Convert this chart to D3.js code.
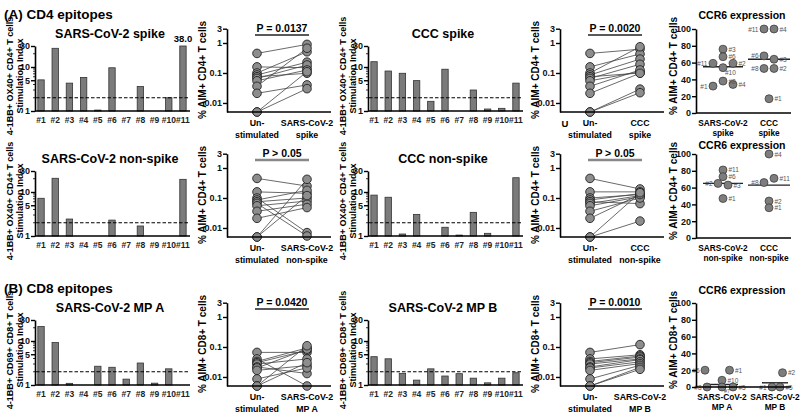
<!DOCTYPE html>
<html><head><meta charset="utf-8">
<script src="https://cdn.jsdelivr.net/npm/d3@7"></script>
<style>
body{margin:0;background:#fff}
svg{font-family:"Liberation Sans",Arial,sans-serif;font-weight:bold}
</style></head><body>
<script>
// Donors
const donors = ['#1','#2','#3','#4','#5','#6','#7','#8','#9','#10','#11'];

// Stimulation index per donor (null = no bar)
const siSarsSpike    = [5.1, 26.6, 4.3, 5.8, 1.05, 9.6, null, 3.6, null, 2.0, 38.0];
const siCccSpike     = [13.2, 8.1, 7.2, 4.9, 1.66, 8.9, null, 3.0, 1.11, 1.15, 4.3];
const siSarsNonSpike = [7.2, 20.5, 2.43, null, null, 2.3, null, 1.69, null, null, 19.4];
const siCccNonSpike  = [8.5, 7.6, 1.11, 3.1, null, 1.58, 1.05, 3.45, 1.15, null, 21.1];
const siMpA          = [21.3, 9.2, 1.09, null, 2.67, 2.53, 1.36, 3.16, 1.1, 2.33, null];
const siMpB          = [4.4, 3.94, 1.84, 1.29, 2.33, 1.6, 1.81, 1.43, 1.12, 1.43, 1.9];
const siThreshold = 2;

// % AIM+ cells, paired unstimulated vs stimulated
const unstimCD4  = [0.45, 0.16, 0.10, 0.086, 0.075, 0.066, 0.055, 0.036, 0.021, 0.005, 0.005];
const aimSarsSpike    = [0.9, 0.15, 0.51, 0.23, 0.098, 0.185, 0.126, 0.67, 0.04, 0.03, 0.11];
const aimCccSpike     = [0.62, 0.43, 0.75, 0.29, 0.1, 0.195, 0.11, 0.126, 0.098, 0.029, 0.022];
const aimSarsNonSpike = [0.25, 0.143, 0.007, 0.18, 0.10, 0.0054, 0.079, 0.062, 0.048, 0.42, 0.12];
const aimCccNonSpike  = [0.2, 0.16, 0.13, 0.14, 0.065, 0.12, 0.11, 0.1, 0.13, 0.15, 0.017];
const unstimCD8  = [0.066, 0.04, 0.033, 0.03, 0.027, 0.0216, 0.02, 0.0166, 0.0086, 0.005, 0.005];
const aimMpA = [0.066, 0.005, 0.093, 0.077, 0.04, 0.013, 0.085, 0.024, 0.02, 0.11, 0.03];
const aimMpB = [0.12, 0.055, 0.05, 0.046, 0.04, 0.038, 0.032, 0.028, 0.0245, 0.021, 0.018];

// CCR6 expression (% of AIM+ cells); slot = side-by-side offset, side = label side
const ccr6SpikeIds  = ['#3','#6','#11','#2','#10','#8','#1','#4'];
const ccr6SpikeVals = [76, 67, 59, 59, 54, 38, 32, 34];
const ccr6SpikeSlot = [0, 0, -2, 2, 0, 0, -2, 2];
const ccr6SpikeSide = ['r','r','l','r','b','r','l','r'];
const ccr6CccIds  = ['#11','#4','#6','#3','#8','#2','#1'];
const ccr6CccVals = [100, 100, 68, 64, 53, 53, 17];
const ccr6CccSlot = [-1, 1, -1, 1, -1, 1, 0];
const ccr6CccSide = ['l','r','l','r','l','r','r'];
const ccr6SarsNsIds  = ['#11','#6','#2','#3','#1'];
const ccr6SarsNsVals = [81, 73, 65, 63, 47];
const ccr6SarsNsSlot = [0, 0, -1, 1, 0];
const ccr6SarsNsSide = ['r','r','l','r','r'];
const ccr6CccNsIds  = ['#4','#11','#8','#2','#1'];
const ccr6CccNsVals = [100, 71, 66, 44, 36];
const ccr6CccNsSlot = [0, 1, -1, 0, 0];
const ccr6CccNsSide = ['r','r','l','r','r'];
const ccr6MpAIds  = ['#6','#1','#10','#8','#7','#5'];
const ccr6MpAVals = [20, 20, 8, 0, 0, 0];
const ccr6MpASlot = [-3.4, 1.5, 0, -3, 0, 2.2];
const ccr6MpASide = ['l','r','r','l','b','r'];
const ccr6MpBIds  = ['#2','#1','#5'];
const ccr6MpBVals = [17, 0, 0];
const ccr6MpBSlot = [1.5, -0.6, 1];
const ccr6MpBSide = ['r','l','r'];
const ccr6Medians = [[55, 64], [65, 63], [3, 5]];

const width = 800, height = 412;
const rowOff = [0, 125, 274];
const colOff = [0, 333];

const svg = d3.select('body').append('svg')
  .attr('width', width)
  .attr('height', height);

function styleAxis(a) {
  a.select('.domain').attr('stroke', '#000').attr('stroke-width', 1.6);
  a.selectAll('.tick line').attr('stroke', '#000').attr('stroke-width', 1.4);
  a.selectAll('.tick text').attr('font-size', 9).attr('font-weight', 'bold').attr('fill', '#111');
}

function rotLabel(g, x, y, lines, size, gap) {
  const t = g.append('text')
    .attr('transform', `translate(${x},${y}) rotate(-90)`)
    .attr('text-anchor', 'middle')
    .attr('font-size', size);
  lines.forEach((l, i) => t.append('tspan').attr('x', 0).attr('dy', i ? gap : 0).text(l));
}

// Section headings
svg.append('text').attr('x', 4).attr('y', 19).attr('font-size', 13.5).text('(A) CD4 epitopes');
svg.append('text').attr('x', 4).attr('y', 293).attr('font-size', 13.5).text('(B) CD8 epitopes');

function barPanel(row, col, title, vals, ylab) {
  const g = svg.append('g').attr('transform', `translate(${colOff[col]},${rowOff[row]})`);
  const x = d3.scaleBand().domain(donors).range([35, 189]).paddingInner(0.55).paddingOuter(0.2);
  const y = d3.scaleLog().domain([1, 30]).range([111, 46]).clamp(true);
  const data = vals.map((v, i) => ({id: donors[i], v})).filter(d => d.v != null);

  g.selectAll('rect.bar').data(data).enter().append('rect')
    .attr('class', 'bar')
    .attr('x', d => x(d.id))
    .attr('width', x.bandwidth())
    .attr('y', d => y(d.v))
    .attr('height', d => y(1) - y(d.v))
    .attr('fill', '#7b7b7b')
    .attr('stroke', '#333')
    .attr('stroke-width', 0.8);

  data.filter(d => d.v > 30).forEach(d => {
    g.append('text').attr('x', x(d.id) + x.bandwidth() / 2).attr('y', y(30) - 4)
      .attr('text-anchor', 'middle').attr('font-size', 9.5).text(d.v.toFixed(1));
  });

  // minor ticks
  g.selectAll('line.minor').data([2, 3, 4, 6, 7, 8, 9, 20]).enter().append('line')
    .attr('x1', 33).attr('x2', 35).attr('y1', d => y(d)).attr('y2', d => y(d))
    .attr('stroke', '#000').attr('stroke-width', 0.8);

  const ya = g.append('g').attr('transform', 'translate(35,0)')
    .call(d3.axisLeft(y).tickValues([1, 5, 10, 30]).tickFormat(d3.format('d')).tickSize(4).tickSizeOuter(0).tickPadding(1));
  styleAxis(ya);

  const xa = g.append('g').attr('transform', `translate(0,${y(1)})`)
    .call(d3.axisBottom(x).tickSize(0).tickPadding(6).tickSizeOuter(0));
  xa.select('.domain').attr('d', 'M35,0H190').attr('stroke', '#000').attr('stroke-width', 1.6);
  xa.selectAll('.tick text').attr('font-size', 8.5).attr('font-weight', 'bold').attr('fill', '#222');

  g.append('line').attr('x1', 36).attr('x2', 190)
    .attr('y1', y(siThreshold)).attr('y2', y(siThreshold))
    .attr('stroke', '#000').attr('stroke-width', 1.2).attr('stroke-dasharray', '3.5,2');

  g.append('text').attr('x', 110).attr('y', 38).attr('text-anchor', 'middle')
    .attr('font-size', 12.5).text(title);
  rotLabel(g, 12.5, 76, ylab, 9, 10);
}

function pairPanel(row, col, unst, stim, p, sig, ylab, cat) {
  const g = svg.append('g').attr('transform', `translate(${colOff[col]},${rowOff[row]})`);
  const x = d3.scalePoint().domain(['u', 's']).range([257, 307]);
  const y = d3.scaleLog().domain([0.005, 3]).range([112, 28.7]);
  const pairs = unst.map((u, i) => ({u, s: stim[i]}));

  g.selectAll('line.pair').data(pairs).enter().append('line')
    .attr('x1', x('u')).attr('x2', x('s'))
    .attr('y1', d => y(d.u)).attr('y2', d => y(d.s))
    .attr('stroke', '#444').attr('stroke-width', 0.8);

  const pts = pairs.flatMap(d => [{k: 'u', v: d.u}, {k: 's', v: d.s}]);
  g.selectAll('circle').data(pts).enter().append('circle')
    .attr('cx', d => x(d.k)).attr('cy', d => y(d.v)).attr('r', 4.3)
    .attr('fill', '#8d8d8d').attr('stroke', '#222').attr('stroke-width', 0.9);

  const ya = g.append('g').attr('transform', 'translate(227,0)')
    .call(d3.axisLeft(y).tickValues([0.01, 0.1, 1, 3]).tickFormat(d => String(d)).tickSize(4).tickSizeOuter(0).tickPadding(1));
  styleAxis(ya);
  g.append('line').attr('x1', 227).attr('x2', 331).attr('y1', 112).attr('y2', 112)
    .attr('stroke', '#000').attr('stroke-width', 1.6);

  g.append('text').attr('x', 282).attr('y', 32).attr('text-anchor', 'middle')
    .attr('font-size', 10.5).text(p);
  g.append('line').attr('x1', 255).attr('x2', 309).attr('y1', 35).attr('y2', 35)
    .attr('stroke', sig ? '#222' : '#888').attr('stroke-width', sig ? 1.3 : 2.5);

  [['Un-', 'stimulated'], cat].forEach((lines, i) => {
    lines.forEach((l, j) => g.append('text')
      .attr('x', x(i ? 's' : 'u')).attr('y', 126 + j * 11.5)
      .attr('text-anchor', 'middle').attr('font-size', 8.8).text(l));
  });
  rotLabel(g, 206, 70, ylab, 10, 10);
}

function ccr6Panel(row, cats, xr, groups, med, ylab, titleY) {
  const g = svg.append('g').attr('transform', `translate(0,${rowOff[row]})`);
  const x = d3.scalePoint().domain([0, 1]).range(xr);
  const y = d3.scaleLinear().domain([0, 100]).range([113, 29]);

  groups.forEach((gr, ci) => {
    const half = gr.half;
    g.append('line').attr('x1', x(ci) - half).attr('x2', x(ci) + half)
      .attr('y1', y(med[ci])).attr('y2', y(med[ci]))
      .attr('stroke', '#222').attr('stroke-width', 1.4);
    const data = gr.ids.map((id, i) => ({id, v: gr.vals[i], s: gr.slot[i], side: gr.side[i]}));
    g.selectAll(null).data(data).enter().append('circle')
      .attr('cx', d => x(ci) + d.s * 5).attr('cy', d => y(d.v)).attr('r', 4)
      .attr('fill', '#7d7d7d').attr('stroke', '#333').attr('stroke-width', 0.7);
    g.selectAll(null).data(data).enter().append('text')
      .attr('x', d => x(ci) + d.s * 5 + (d.side === 'l' ? -5.5 : d.side === 'b' ? 2 : 5.5))
      .attr('y', d => y(d.v) + (d.side === 'b' ? (d.v < 5 ? 5.5 : 7.5) : 2.5))
      .attr('text-anchor', d => d.side === 'l' ? 'end' : 'start')
      .attr('font-size', d => d.side === 'b' && d.v < 5 ? 5.5 : 6.5)
      .attr('font-weight', 'normal').attr('fill', '#555')
      .text(d => d.id);
  });

  const ya = g.append('g').attr('transform', 'translate(696,0)')
    .call(d3.axisLeft(y).tickValues([0, 20, 40, 60, 80, 100]).tickSize(4).tickSizeOuter(0).tickPadding(1));
  styleAxis(ya);
  g.append('line').attr('x1', 696).attr('x2', 791).attr('y1', 113).attr('y2', 113)
    .attr('stroke', '#000').attr('stroke-width', 1.6);

  cats.forEach((lines, i) => lines.forEach((l, j) => g.append('text')
    .attr('x', x(i)).attr('y', 126 + j * 10).attr('text-anchor', 'middle')
    .attr('font-size', 8.3).text(l)));

  g.append('text').attr('x', 742).attr('y', titleY).attr('text-anchor', 'middle')
    .attr('font-size', 10.5).text('CCR6 expression');
  rotLabel(g, 677, 66, ylab, 10, 10);
}

const cd4Bar = ['4-1BB+ OX40+ CD4+ T cells', 'Stimulation Index'];
const cd8Bar = ['4-1BB+ CD69+ CD8+ T cells', 'Stimulation Index'];
const cd4Aim = ['% AIM+ CD4+ T cells'];
const cd8Aim = ['% AIM+ CD8+ T cells'];

barPanel(0, 0, 'SARS-CoV-2 spike', siSarsSpike, cd4Bar);
barPanel(0, 1, 'CCC spike', siCccSpike, cd4Bar);
barPanel(1, 0, 'SARS-CoV-2 non-spike', siSarsNonSpike, cd4Bar);
barPanel(1, 1, 'CCC non-spike', siCccNonSpike, cd4Bar);
barPanel(2, 0, 'SARS-CoV-2 MP A', siMpA, cd8Bar);
barPanel(2, 1, 'SARS-CoV-2 MP B', siMpB, cd8Bar);

pairPanel(0, 0, unstimCD4, aimSarsSpike, 'P = 0.0137', true, cd4Aim, ['SARS-CoV-2', 'spike']);
pairPanel(0, 1, unstimCD4, aimCccSpike, 'P = 0.0020', true, cd4Aim, ['CCC', 'spike']);
pairPanel(1, 0, unstimCD4, aimSarsNonSpike, 'P > 0.05', false, cd4Aim, ['SARS-CoV-2', 'non-spike']);
pairPanel(1, 1, unstimCD4, aimCccNonSpike, 'P > 0.05', false, cd4Aim, ['CCC', 'non-spike']);
pairPanel(2, 0, unstimCD8, aimMpA, 'P = 0.0420', true, cd8Aim, ['SARS-CoV-2', 'MP A']);
pairPanel(2, 1, unstimCD8, aimMpB, 'P = 0.0010', true, cd8Aim, ['SARS-CoV-2', 'MP B']);

// stray "U" next to the CCC spike panel
svg.append('text').attr('x', 565).attr('y', 127).attr('text-anchor', 'middle').attr('font-size', 9.5).text('U');

ccr6Panel(0, [['SARS-CoV-2', 'spike'], ['CCC', 'spike']], [723, 769], [
  {ids: ccr6SpikeIds, vals: ccr6SpikeVals, slot: ccr6SpikeSlot, side: ccr6SpikeSide, half: 20},
  {ids: ccr6CccIds, vals: ccr6CccVals, slot: ccr6CccSlot, side: ccr6CccSide, half: 21}
], ccr6Medians[0], cd4Aim, 19);
ccr6Panel(1, [['SARS-CoV-2', 'non-spike'], ['CCC', 'non-spike']], [723, 769], [
  {ids: ccr6SarsNsIds, vals: ccr6SarsNsVals, slot: ccr6SarsNsSlot, side: ccr6SarsNsSide, half: 20},
  {ids: ccr6CccNsIds, vals: ccr6CccNsVals, slot: ccr6CccNsSlot, side: ccr6CccNsSide, half: 21}
], ccr6Medians[1], cd4Aim, 24);
ccr6Panel(2, [['SARS-CoV-2', 'MP A'], ['SARS-CoV-2', 'MP B']], [722, 775], [
  {ids: ccr6MpAIds, vals: ccr6MpAVals, slot: ccr6MpASlot, side: ccr6MpASide, half: 16},
  {ids: ccr6MpBIds, vals: ccr6MpBVals, slot: ccr6MpBSlot, side: ccr6MpBSide, half: 13}
], ccr6Medians[2], cd8Aim, 20);
</script></body></html>
